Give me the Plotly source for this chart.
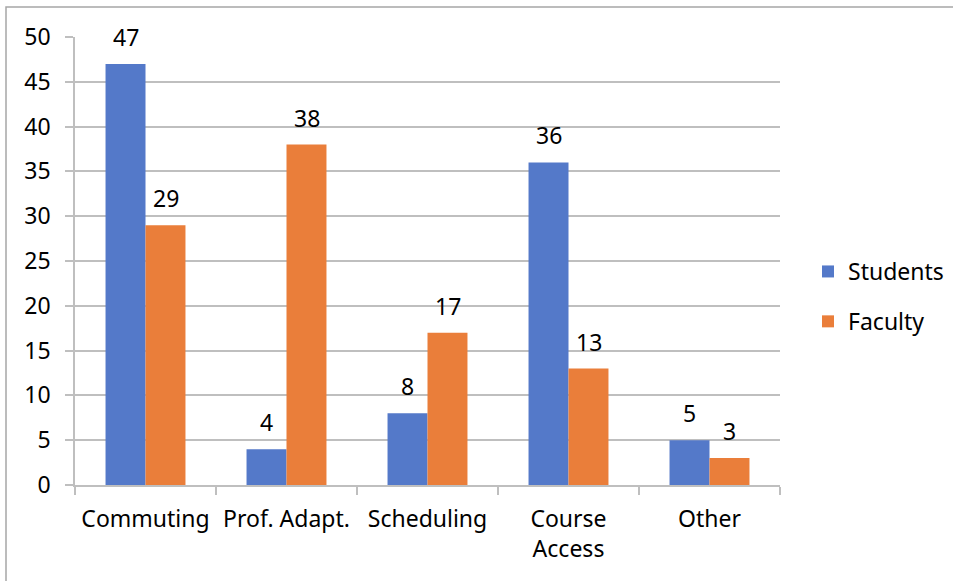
import plotly.graph_objects as go

categories = ["Commuting", "Prof. Adapt.", "Scheduling", "Course<br>Access", "Other"]
students = [47, 4, 8, 36, 5]
faculty = [29, 38, 17, 13, 3]
y_ticks = [0, 5, 10, 15, 20, 25, 30, 35, 40, 45, 50]

FONT = "Noto Sans"
FS = 23
STUD_COLOR = "#5479C9"
FAC_COLOR = "#EA7E3A"

fig = go.Figure()
fig.add_trace(go.Bar(name="Students", x=categories, y=students,
                     marker=dict(color=STUD_COLOR, line=dict(width=0)),
                     legendgroup="s"))
fig.add_trace(go.Bar(name="Faculty", x=categories, y=faculty,
                     marker=dict(color=FAC_COLOR, line=dict(width=0)),
                     legendgroup="f"))

annotations = []
for cat, v in zip(categories, students):
    annotations.append(dict(x=cat, y=v, xref="x", yref="y", text=str(v), showarrow=False,
                            xshift=-20, yshift=27, font=dict(family=FONT, size=FS, color="#000000")))
for cat, v in zip(categories, faculty):
    annotations.append(dict(x=cat, y=v, xref="x", yref="y", text=str(v), showarrow=False,
                            xshift=20, yshift=27, font=dict(family=FONT, size=FS, color="#000000")))

L, R, T, B = 75, 173, 37, 96
W, H = 953, 581
pw, ph = W - L - R, H - T - B

fig.update_layout(
    width=W, height=H,
    margin=dict(l=L, r=R, t=T, b=B, pad=0, autoexpand=False),
    paper_bgcolor="white", plot_bgcolor="white",
    barmode="group", bargap=0.433, bargroupgap=0,
    font=dict(family=FONT, size=FS, color="#000000"),
    showlegend=True,
    legend=dict(xref="container", yref="container", x=808 / W, y=1 - 250 / H,
                xanchor="left", yanchor="top",
                font=dict(family=FONT, size=FS), tracegroupgap=17,
                itemwidth=30, bgcolor="rgba(0,0,0,0)"),
    annotations=annotations,
    shapes=[dict(type="rect", xref="paper", yref="paper",
                 x0=(6 - L) / pw, x1=(965 - L) / pw,
                 y0=1 + (T - 600) / ph, y1=1 + (T - 7) / ph,
                 line=dict(color="#A6A6A6", width=1.5), fillcolor="rgba(0,0,0,0)", layer="below")],
)
fig.update_xaxes(type="category", showline=True, linecolor="#BFBFBF", linewidth=1.5,
                 ticks="outside", tickson="boundaries", ticklen=8, tickcolor="#BFBFBF",
                 tickwidth=1.5, showgrid=False, tickfont=dict(family=FONT, size=FS),
                 ticklabelstandoff=13, automargin=False)
fig.update_yaxes(range=[0, 50], tickvals=y_ticks, showgrid=True, gridcolor="#BFBFBF",
                 gridwidth=1.5, showline=True, linecolor="#BFBFBF", linewidth=1.5,
                 ticks="outside", ticklen=8, tickcolor="#BFBFBF", tickwidth=1.5,
                 zeroline=False, tickfont=dict(family=FONT, size=FS), ticklabelstandoff=10,
                 automargin=False)

fig.write_html("out.html")
